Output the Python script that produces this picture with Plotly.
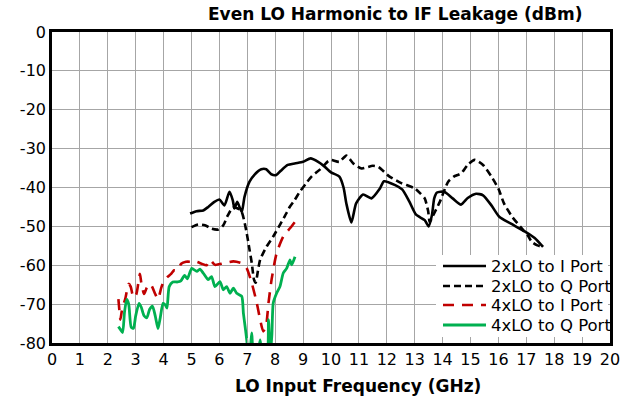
import plotly.graph_objects as go

# LO input frequency (GHz) and leakage (dBm) for each harmonic/port pair
f_2lo_i = [4.95, 5.18, 5.42, 5.6, 5.82, 6.0, 6.18, 6.36, 6.48, 6.54, 6.64, 6.8, 6.9, 7.08,
           7.27, 7.5, 7.68, 7.86, 8.04, 8.2, 8.45, 8.7, 9.0, 9.27, 9.54, 9.75, 10.0, 10.3,
           10.45, 10.55, 10.73, 10.9, 11.15, 11.45, 11.75, 11.9, 12.3, 12.55, 12.8, 13.05,
           13.36, 13.5, 13.62, 13.7, 13.8, 14.06, 14.36, 14.66, 14.9, 15.2, 15.45, 15.75,
           16.04, 16.45, 16.94, 17.3, 17.6]
db_2lo_i = [-46.7, -46.1, -45.9, -45.0, -43.7, -43.1, -44.6, -41.1, -43.3, -45.4, -43.7, -46.3,
            -42.4, -38.5, -36.6, -35.3, -35.3, -36.6, -36.8, -35.7, -34.2, -33.8, -33.4, -32.5,
            -33.4, -34.5, -36.1, -37.2, -40.0, -44.1, -49.0, -44.1, -41.8, -42.8, -40.3, -38.4,
            -39.4, -40.5, -43.5, -47.0, -48.4, -50.0, -47.0, -42.8, -41.3, -41.1, -42.8, -44.4,
            -42.7, -41.6, -42.0, -44.6, -47.6, -49.3, -51.3, -53.0, -55.3]

f_2lo_q = [5.0, 5.24, 5.48, 5.72, 5.96, 6.14, 6.3, 6.48, 6.66, 6.8, 6.96, 7.08, 7.16, 7.24,
           7.3, 7.38, 7.46, 7.69, 7.93, 8.17, 8.35, 8.53, 8.7, 8.89, 9.1, 9.3, 9.6, 9.9, 10.0,
           10.3, 10.55, 10.8, 11.1, 11.5, 11.7, 12.1, 12.5, 13.0, 13.2, 13.36, 13.48, 13.54,
           13.66, 13.9, 14.2, 14.4, 14.66, 14.9, 15.15, 15.45, 15.75, 16.0, 16.2, 16.5, 16.8,
           17.05, 17.2, 17.4, 17.6]
db_2lo_q = [-50.2, -49.5, -49.7, -50.6, -50.8, -49.7, -47.2, -45.2, -45.4, -46.3, -51.0, -56.0,
            -59.4, -63.7, -64.5, -61.5, -58.6, -55.2, -52.6, -49.6, -47.3, -44.9, -43.2, -41.0,
            -39.0, -37.2, -35.4, -33.2, -32.9, -33.4, -31.8, -33.8, -35.1, -34.4, -34.7, -37.2,
            -38.8, -40.2, -41.5, -42.8, -46.0, -48.9, -47.2, -43.7, -38.5, -37.2, -36.4, -34.2,
            -32.9, -34.2, -37.2, -40.3, -44.1, -47.6, -50.2, -52.3, -54.0, -54.9, -55.3]

f_4lo_i = [2.38, 2.42, 2.45, 2.52, 2.62, 2.75, 2.82, 2.92, 3.02, 3.15, 3.2, 3.3, 3.4, 3.52,
           3.6, 3.7, 3.8, 3.92, 4.02, 4.14, 4.27, 4.38, 4.5, 4.63, 4.8, 5.0, 5.17, 5.36, 5.54,
           5.66, 5.84, 6.14, 6.5, 6.8, 6.98, 7.16, 7.34, 7.46, 7.57, 7.67, 7.76, 7.87, 8.05,
           8.29, 8.53, 8.71]
db_4lo_i = [-68.7, -72.0, -74.0, -71.0, -68.8, -64.8, -65.5, -68.3, -67.5, -62.2, -64.5, -67.4,
            -65.7, -64.8, -65.7, -67.4, -68.7, -65.7, -64.0, -63.0, -62.2, -61.3, -61.3, -59.6,
            -59.1, -59.1, -59.1, -59.6, -60.0, -58.6, -59.9, -59.5, -59.0, -59.5, -60.8, -64.6,
            -69.7, -74.0, -77.0, -75.7, -69.7, -63.7, -56.9, -52.6, -50.5, -48.8]

f_4lo_q = [2.38, 2.45, 2.53, 2.6, 2.68, 2.75, 2.84, 2.92, 3.0, 3.12, 3.2, 3.3, 3.4, 3.5, 3.6,
           3.7, 3.8, 3.88, 3.98, 4.06, 4.12, 4.2, 4.33, 4.5, 4.62, 4.75, 4.85, 5.01, 5.19, 5.3,
           5.42, 5.6, 5.72, 5.84, 6.02, 6.14, 6.26, 6.38, 6.5, 6.62, 6.8, 6.86, 6.92, 6.98,
           7.05, 7.12, 7.16, 7.22, 7.35, 7.46, 7.55, 7.7, 7.76, 7.82, 7.88, 7.93, 8.05, 8.17,
           8.29, 8.41, 8.53, 8.59, 8.71]
db_4lo_q = [-75.8, -76.5, -77.3, -72.0, -68.8, -70.0, -76.0, -76.2, -73.0, -69.8, -70.8, -73.0,
            -73.5, -71.3, -70.5, -73.0, -76.3, -73.5, -69.8, -70.2, -71.0, -65.5, -64.3, -64.3,
            -64.0, -62.6, -63.5, -60.8, -61.6, -61.0, -62.0, -63.7, -62.9, -65.5, -64.2, -66.3,
            -65.5, -67.2, -65.9, -67.2, -68.0, -72.3, -75.7, -79.2, -84.0, -80.5, -77.4, -83.0,
            -84.0, -79.2, -84.0, -84.0, -74.0, -83.0, -78.0, -69.7, -67.2, -65.5, -62.0, -60.8,
            -58.6, -59.9, -57.8]

series_names = ["2xLO to I Port", "2xLO to Q Port", "4xLO to I Port", "4xLO to Q Port"]
x_ticks = list(range(0, 21))
y_ticks = list(range(-80, 1, 10))

FONT = "DejaVu Sans"
# plot area in pixels: left 52, right 610, top 32, bottom 343
L, R, T, B = 52, 610, 32, 343


def px(x):
    return (x - L) / (R - L)


def py(y):
    return (B - y) / (B - T)


styles = [
    dict(color="black", width=2.6),
    dict(color="black", width=2.6, dash="7px,4px"),
    dict(color="#c00000", width=2.6, dash="11px,8px"),
    dict(color="#00b050", width=2.8),
]
data = [(f_2lo_i, db_2lo_i), (f_2lo_q, db_2lo_q), (f_4lo_i, db_4lo_i), (f_4lo_q, db_4lo_q)]

fig = go.Figure()
for name, (xs, ys), st in zip(series_names, data, styles):
    fig.add_trace(go.Scatter(x=xs, y=ys, mode="lines", name=name,
                             line=dict(shape="spline", smoothing=0.6, **st)))

# legend box drawn inside the plot area, lower right
shapes = [dict(type="rect", xref="paper", yref="paper", layer="above",
               x0=px(436), x1=px(608), y0=py(337), y1=py(255),
               fillcolor="white", line=dict(width=0))]
annotations = []
row_y = [266, 286, 305, 325]
for name, st, yy in zip(series_names, styles, row_y):
    shapes.append(dict(type="line", xref="paper", yref="paper", layer="above",
                       x0=px(443), x1=px(486), y0=py(yy), y1=py(yy),
                       line=dict(color=st["color"], width=st["width"],
                                 dash=st.get("dash", "solid"))))
    annotations.append(dict(text=name, xref="paper", yref="paper", x=px(489), y=py(yy),
                            xanchor="left", yanchor="middle", showarrow=False,
                            font=dict(size=16.5)))

annotations += [
    dict(text="<b>Even LO Harmonic to IF Leakage (dBm)</b>", xref="paper", yref="paper",
         x=px(395), y=py(14), xanchor="center", yanchor="middle",
         showarrow=False, font=dict(size=17)),
    dict(text="<b>LO Input Frequency (GHz)</b>", xref="paper", yref="paper",
         x=px(358), y=py(386), xanchor="center", yanchor="middle",
         showarrow=False, font=dict(size=17)),
]

fig.update_layout(
    width=636, height=401,
    margin=dict(l=L, r=636 - R, t=T, b=401 - B),
    paper_bgcolor="white", plot_bgcolor="white",
    font=dict(family=FONT, size=16, color="black"),
    showlegend=False,
    shapes=shapes,
    annotations=annotations,
)
fig.update_xaxes(range=[0, 20], tickvals=x_ticks, ticktext=[str(v) for v in x_ticks],
                 showgrid=True, gridcolor="#a6a6a6", gridwidth=1.3,
                 showline=True, linecolor="black", linewidth=2.6, mirror=True,
                 ticks="inside", ticklen=5, tickcolor="#a6a6a6", zeroline=False,
                 tickfont=dict(size=16))
fig.update_yaxes(range=[-80, 0], tickvals=y_ticks, ticktext=[str(v) for v in y_ticks],
                 showgrid=True, gridcolor="#a6a6a6", gridwidth=1.3,
                 showline=True, linecolor="black", linewidth=2.6, mirror=True,
                 ticks="", zeroline=False, tickfont=dict(size=16))

fig.write_html("out.html")
